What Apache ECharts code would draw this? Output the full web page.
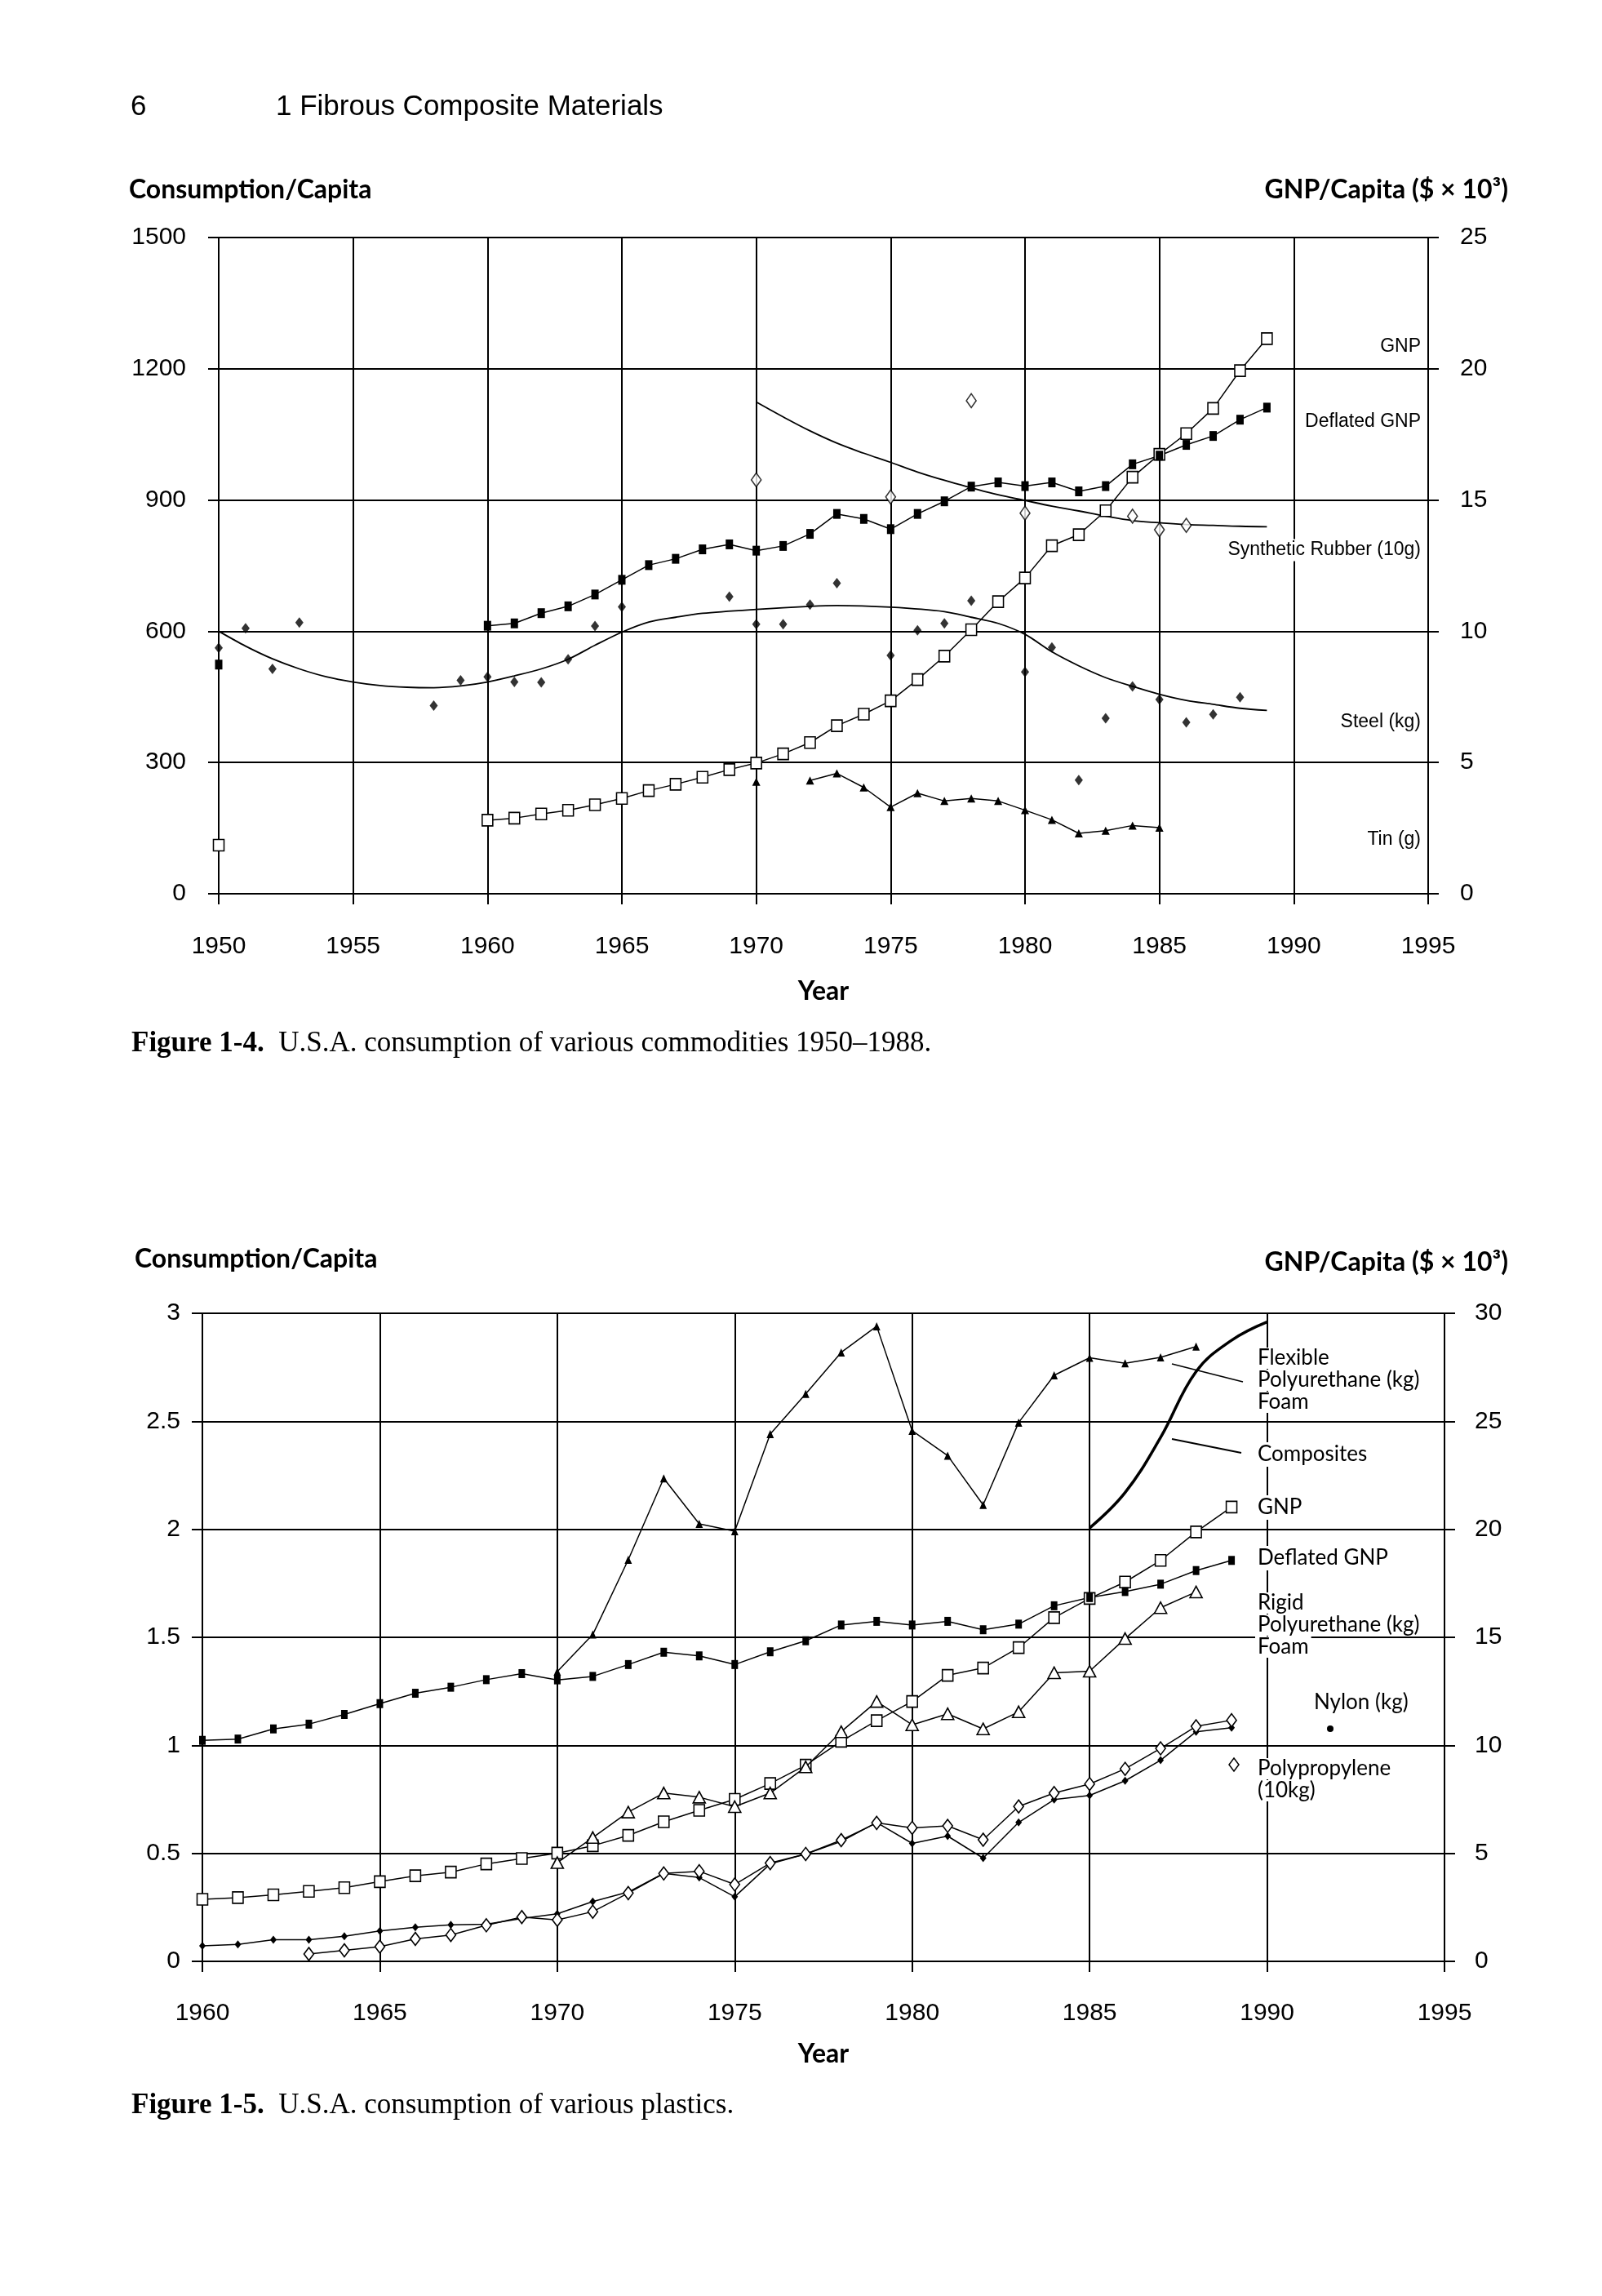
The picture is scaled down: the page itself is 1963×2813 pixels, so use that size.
<!DOCTYPE html>
<html>
<head>
<meta charset="utf-8">
<script src="https://cdn.jsdelivr.net/npm/echarts/dist/echarts.min.js"></script>
<style>
html,body{margin:0;padding:0;background:#fff;}
#c{width:1963px;height:2813px;}
</style>
</head>
<body>
<div id="c"></div>
<script>
// ================= Figure 1-4 data =================
const fig1XTicks = [1950, 1955, 1960, 1965, 1970, 1975, 1980, 1985, 1990, 1995];
const fig1LeftTicks = [0, 300, 600, 900, 1200, 1500];
const fig1RightTicks = [0, 5, 10, 15, 20, 25];

const f1GnpYears = [1950, 1960, 1961, 1962, 1963, 1964, 1965, 1966, 1967, 1968, 1969,
  1970, 1971, 1972, 1973, 1974, 1975, 1976, 1977, 1978, 1979,
  1980, 1981, 1982, 1983, 1984, 1985, 1986, 1987, 1988, 1989];
const f1GnpVals = [1.85, 2.80, 2.88, 3.04, 3.18, 3.39, 3.63, 3.93, 4.17, 4.44, 4.73,
  4.98, 5.33, 5.76, 6.40, 6.84, 7.35, 8.16, 9.05, 10.06, 11.13,
  12.03, 13.26, 13.68, 14.59, 15.87, 16.74, 17.53, 18.49, 19.93, 21.15];

const f1DeflYears = f1GnpYears;
const f1DeflVals = [8.73, 10.21, 10.30, 10.69, 10.95, 11.40, 11.96, 12.52, 12.76, 13.12, 13.31,
  13.07, 13.25, 13.71, 14.47, 14.28, 13.89, 14.47, 14.95, 15.51, 15.67,
  15.53, 15.67, 15.33, 15.53, 16.36, 16.69, 17.10, 17.44, 18.06, 18.52];

const f1SteelYears = [1950, 1951, 1952, 1953, 1958, 1959, 1960, 1961, 1962, 1963, 1964, 1965,
  1969, 1970, 1971, 1972, 1973, 1975, 1976, 1977, 1978, 1980, 1981, 1982, 1983, 1984,
  1985, 1986, 1987, 1988];
const f1SteelVals = [562, 607, 514, 620, 430, 488, 496, 484, 483, 536, 612, 656,
  679, 616, 616, 661, 710, 545, 602, 618, 670, 507, 563, 260, 401, 474,
  444, 392, 410, 449];

const f1SteelFitYears = [1950, 1951, 1952, 1953, 1954, 1955, 1956, 1957, 1958, 1959, 1960,
  1961, 1962, 1963, 1964, 1965, 1966, 1967, 1968, 1970, 1972, 1973, 1975, 1977, 1978,
  1979, 1980, 1981, 1982, 1983, 1984, 1985, 1986, 1987, 1988, 1989];
const f1SteelFitVals = [600, 566, 537, 514, 496, 484, 476, 472, 471, 475, 484,
  498, 514, 536, 568, 598, 621, 632, 641, 650, 657, 659, 655, 645, 632,
  618, 593, 553, 521, 494, 474, 456, 442, 433, 424, 419];

const f1RubberYears = [1970, 1975, 1978, 1980, 1984, 1985, 1986];
const f1RubberVals = [946, 907, 1127, 870, 863, 832, 842];

const f1RubberFitYears = [1970, 1971, 1972, 1973, 1974, 1975, 1976, 1977, 1978, 1979,
  1980, 1981, 1982, 1983, 1984, 1985, 1986, 1987, 1988, 1989];
const f1RubberFitVals = [1124, 1090, 1058, 1030, 1007, 986, 964, 945, 928, 912,
  899, 886, 875, 863, 853, 848, 844, 842, 840, 839];

const f1TinYears = [1970, 1971, 1972, 1973, 1974, 1975, 1976, 1977, 1978, 1979,
  1980, 1981, 1982, 1983, 1984, 1985];
const f1TinVals = [256, null, 259, 275, 243, 198, 230, 212, 218, 212,
  191, 169, 138, 144, 156, 151];

// ================= Figure 1-5 data =================
const fig2XTicks = [1960, 1965, 1970, 1975, 1980, 1985, 1990, 1995];
const fig2LeftTicks = [0, 0.5, 1, 1.5, 2, 2.5, 3];
const fig2RightTicks = [0, 5, 10, 15, 20, 25, 30];

const f2Years = [1960, 1961, 1962, 1963, 1964, 1965, 1966, 1967, 1968, 1969,
  1970, 1971, 1972, 1973, 1974, 1975, 1976, 1977, 1978, 1979,
  1980, 1981, 1982, 1983, 1984, 1985, 1986, 1987, 1988, 1989];
const f2GnpVals = [2.87, 2.95, 3.08, 3.24, 3.41, 3.69, 3.96, 4.13, 4.51, 4.76,
  5.01, 5.35, 5.83, 6.46, 6.99, 7.50, 8.23, 9.08, 10.19, 11.14,
  12.03, 13.24, 13.58, 14.52, 15.91, 16.80, 17.56, 18.56, 19.88, 21.03];
const f2DeflVals = [10.23, 10.29, 10.76, 10.98, 11.43, 11.93, 12.41, 12.69, 13.04, 13.32,
  13.03, 13.19, 13.74, 14.31, 14.14, 13.74, 14.33, 14.84, 15.57, 15.74,
  15.57, 15.74, 15.35, 15.61, 16.46, 16.84, 17.12, 17.46, 18.09, 18.56];
const f2NylonVals = [0.072, 0.078, 0.100, 0.100, 0.116, 0.141, 0.158, 0.169, 0.172, 0.198,
  0.220, 0.277, 0.321, 0.407, 0.388, 0.299, 0.451, 0.497, 0.555, 0.643,
  0.546, 0.580, 0.478, 0.643, 0.749, 0.768, 0.836, 0.931, 1.063, 1.082];

const f2PolyYears = [1963, 1964, 1965, 1966, 1967, 1968, 1969,
  1970, 1971, 1972, 1973, 1974, 1975, 1976, 1977, 1978, 1979,
  1980, 1981, 1982, 1983, 1984, 1985, 1986, 1987, 1988, 1989];
const f2PolyVals = [0.034, 0.051, 0.068, 0.104, 0.122, 0.167, 0.205,
  0.192, 0.230, 0.316, 0.407, 0.417, 0.356, 0.455, 0.497, 0.561, 0.641,
  0.618, 0.627, 0.563, 0.717, 0.779, 0.821, 0.891, 0.986, 1.088, 1.116];

const f2FoamYears = [1970, 1971, 1972, 1973, 1974, 1975, 1976, 1977, 1978, 1979,
  1980, 1981, 1982, 1983, 1984, 1985, 1986, 1987, 1988];
const f2FlexVals = [1.341, 1.513, 1.859, 2.236, 2.025, 1.991, 2.441, 2.627, 2.819, 2.940,
  2.456, 2.341, 2.113, 2.494, 2.713, 2.794, 2.769, 2.796, 2.846];
const f2RigidVals = [0.457, 0.573, 0.691, 0.779, 0.760, 0.716, 0.779, 0.900, 1.063, 1.203,
  1.095, 1.146, 1.076, 1.155, 1.336, 1.343, 1.494, 1.637, 1.710];

const f2CompYears = [1985, 1986, 1987, 1988, 1989, 1990];
const f2CompVals = [2.006, 2.170, 2.425, 2.730, 2.875, 2.960];

// ================= helpers =================
// pairs with a break where the yearly record has a gap (for connected data lines)
function gapPairs(xs, ys) {
  const out = [];
  for (let i = 0; i < xs.length; i++) {
    if (i > 0 && xs[i] - xs[i - 1] > 1) out.push([xs[i - 1] + 1, null]);
    out.push([xs[i], ys[i]]);
  }
  return out;
}
// plain pairs (fitted curves, scatter)
function plainPairs(xs, ys) {
  return xs.map((x, i) => [x, ys[i]]);
}
const BLACK = '#000';
const SANS = '"Liberation Sans", Arial, sans-serif';
const GEO = 'Lato, "Open Sans", sans-serif';
const SERIF = '"Liberation Serif", "Times New Roman", serif';
const plain = v => String(v);

function xAxisCfg(grid, ticks, margin) {
  return {
    type: 'value', gridIndex: grid, min: ticks[0], max: ticks[ticks.length - 1],
    interval: ticks[1] - ticks[0],
    axisLine: { show: true, onZero: false, lineStyle: { color: BLACK, width: 2 } },
    axisTick: { show: true, inside: false, length: 13, lineStyle: { color: BLACK, width: 2 } },
    axisLabel: { show: true, margin: margin, color: BLACK, fontFamily: SANS, fontSize: 30, formatter: plain, showMinLabel: true, showMaxLabel: true },
    splitLine: { show: true, lineStyle: { color: BLACK, width: 2 } }
  };
}
function yAxisCfg(grid, ticks, pos, margin, split) {
  return {
    type: 'value', gridIndex: grid, position: pos, min: ticks[0], max: ticks[ticks.length - 1],
    interval: ticks[1] - ticks[0],
    axisLine: { show: true, onZero: false, lineStyle: { color: BLACK, width: 2 } },
    axisTick: { show: true, inside: false, length: 13, lineStyle: { color: BLACK, width: 2 } },
    axisLabel: { show: true, margin: margin, color: BLACK, fontFamily: SANS, fontSize: 30, formatter: plain, showMinLabel: true, showMaxLabel: true },
    splitLine: { show: split, lineStyle: { color: BLACK, width: 2 } }
  };
}
const LINE = { color: BLACK, width: 1.5 };
const openItem = { color: '#fff', borderColor: BLACK, borderWidth: 1.6 };
const fillItem = { color: BLACK, borderColor: BLACK, borderWidth: 0 };

function text(t, x, y, opts) {
  opts = opts || {};
  const st = {
    text: t, x: x, y: y, fill: BLACK,
    fontFamily: opts.family || SANS, fontSize: opts.size || 22,
    fontWeight: opts.weight || 'normal',
    align: opts.align || 'left', textAlign: opts.align || 'left',
    verticalAlign: 'middle', textVerticalAlign: 'middle'
  };
  if (opts.bg) { st.backgroundColor = '#fff'; st.padding = opts.pad || [2, 4]; }
  if (opts.rich) st.rich = opts.rich;
  return { type: 'text', z: 100, style: st };
}

// ================= chart =================
const chart = echarts.init(document.getElementById('c'), null, { renderer: 'canvas' });

const capRich = { b: { fontFamily: SERIF, fontSize: 35, fontWeight: 'bold', fill: BLACK } };
const LBL2 = 26;

const option = {
  animation: false,
  backgroundColor: '#fff',
  grid: [
    { left: 268, top: 291, width: 1482, height: 804 },
    { left: 248, top: 1609, width: 1522, height: 794 }
  ],
  xAxis: [xAxisCfg(0, fig1XTicks, 50), xAxisCfg(1, fig2XTicks, 49)],
  yAxis: [
    yAxisCfg(0, fig1LeftTicks, 'left', 40, true),
    yAxisCfg(0, fig1RightTicks, 'right', 39, false),
    yAxisCfg(1, fig2LeftTicks, 'left', 27, true),
    yAxisCfg(1, fig2RightTicks, 'right', 37, false)
  ],
  series: [
    // ---- Figure 1-4 ----
    { name: 'Steel fit', type: 'line', xAxisIndex: 0, yAxisIndex: 0, smooth: 0.3, symbol: 'none',
      lineStyle: { color: BLACK, width: 1.8 }, data: plainPairs(f1SteelFitYears, f1SteelFitVals), z: 2 },
    { name: 'Rubber fit', type: 'line', xAxisIndex: 0, yAxisIndex: 0, smooth: 0.4, symbol: 'none',
      lineStyle: { color: BLACK, width: 1.8 }, data: plainPairs(f1RubberFitYears, f1RubberFitVals), z: 2 },
    { name: 'GNP', type: 'line', xAxisIndex: 0, yAxisIndex: 1, symbol: 'rect', symbolSize: [13, 14],
      showSymbol: true, lineStyle: LINE, itemStyle: openItem, data: gapPairs(f1GnpYears, f1GnpVals), z: 3 },
    { name: 'Deflated GNP', type: 'line', xAxisIndex: 0, yAxisIndex: 1, symbol: 'rect', symbolSize: [9, 12],
      showSymbol: true, lineStyle: LINE, itemStyle: fillItem, data: gapPairs(f1DeflYears, f1DeflVals), z: 3 },
    { name: 'Steel (kg)', type: 'scatter', xAxisIndex: 0, yAxisIndex: 0, symbol: 'diamond', symbolSize: [10, 13],
      itemStyle: fillItem, data: plainPairs(f1SteelYears, f1SteelVals), z: 4 },
    { name: 'Synthetic Rubber (10g)', type: 'scatter', xAxisIndex: 0, yAxisIndex: 0, symbol: 'diamond', symbolSize: [12, 17],
      itemStyle: openItem, data: plainPairs(f1RubberYears, f1RubberVals), z: 4 },
    { name: 'Tin (g)', type: 'line', xAxisIndex: 0, yAxisIndex: 0, symbol: 'triangle', symbolSize: [10, 10],
      showSymbol: true, connectNulls: false, lineStyle: LINE, itemStyle: fillItem, data: gapPairs(f1TinYears, f1TinVals), z: 3 },

    // ---- Figure 1-5 ----
    { name: 'Composites', type: 'line', xAxisIndex: 1, yAxisIndex: 2, smooth: 0.4, symbol: 'none',
      lineStyle: { color: BLACK, width: 3.5 }, data: plainPairs(f2CompYears, f2CompVals), z: 2 },
    { name: 'Flexible Polyurethane Foam', type: 'line', xAxisIndex: 1, yAxisIndex: 2, symbol: 'triangle', symbolSize: [9, 10],
      showSymbol: true, lineStyle: LINE, itemStyle: fillItem, data: gapPairs(f2FoamYears, f2FlexVals), z: 3 },
    { name: 'GNP 2', type: 'line', xAxisIndex: 1, yAxisIndex: 3, symbol: 'rect', symbolSize: [13, 14],
      showSymbol: true, lineStyle: LINE, itemStyle: openItem, data: gapPairs(f2Years, f2GnpVals), z: 3 },
    { name: 'Deflated GNP 2', type: 'line', xAxisIndex: 1, yAxisIndex: 3, symbol: 'rect', symbolSize: [8, 11],
      showSymbol: true, lineStyle: LINE, itemStyle: fillItem, data: gapPairs(f2Years, f2DeflVals), z: 3 },
    { name: 'Rigid Polyurethane Foam', type: 'line', xAxisIndex: 1, yAxisIndex: 2, symbol: 'triangle', symbolSize: [15, 14],
      showSymbol: true, lineStyle: LINE, itemStyle: openItem, data: gapPairs(f2FoamYears, f2RigidVals), z: 4 },
    { name: 'Nylon (kg)', type: 'line', xAxisIndex: 1, yAxisIndex: 2, symbol: 'diamond', symbolSize: [8, 10],
      showSymbol: true, lineStyle: LINE, itemStyle: fillItem, data: gapPairs(f2Years, f2NylonVals), z: 3 },
    { name: 'Polypropylene (10kg)', type: 'line', xAxisIndex: 1, yAxisIndex: 2, symbol: 'diamond', symbolSize: [12, 16],
      showSymbol: true, lineStyle: LINE, itemStyle: openItem, data: gapPairs(f2PolyYears, f2PolyVals), z: 4 }
  ],
  graphic: [
    // page header
    text('6', 160, 131, { size: 35 }),
    text('1 Fibrous Composite Materials', 338, 131, { size: 35 }),

    // Figure 1-4 titles
    text('Consumption/Capita', 158, 233, { family: GEO, size: 32, weight: 'bold' }),
    text('GNP/Capita ($ × 10³)', 1848, 233, { family: GEO, size: 32, weight: 'bold', align: 'right' }),
    text('Year', 1009, 1215, { family: GEO, size: 32, weight: 'bold', align: 'center' }),
    text('{b|Figure 1-4.}  U.S.A. consumption of various commodities 1950–1988.', 161, 1279,
      { family: SERIF, size: 35, rich: capRich }),

    // Figure 1-4 series labels
    text('GNP', 1745, 425, { size: 23, align: 'right', bg: true }),
    text('Deflated GNP', 1745, 517, { size: 23, align: 'right', bg: true }),
    text('Synthetic Rubber (10g)', 1745, 674, { size: 23, align: 'right', bg: true }),
    text('Steel (kg)', 1745, 885, { size: 23, align: 'right', bg: true }),
    text('Tin (g)', 1745, 1029, { size: 23, align: 'right', bg: true }),

    // Figure 1-5 titles
    text('Consumption/Capita', 165, 1543, { family: GEO, size: 32, weight: 'bold' }),
    text('GNP/Capita ($ × 10³)', 1848, 1547, { family: GEO, size: 32, weight: 'bold', align: 'right' }),
    text('Year', 1009, 2517, { family: GEO, size: 32, weight: 'bold', align: 'center' }),
    text('{b|Figure 1-5.}  U.S.A. consumption of various plastics.', 161, 2580,
      { family: SERIF, size: 35, rich: capRich }),

    // Figure 1-5 series labels
    text('Flexible', 1538, 1664, { family: GEO, size: LBL2, bg: true, pad: [0, 3] }),
    text('Polyurethane (kg)', 1538, 1691, { family: GEO, size: LBL2, bg: true, pad: [0, 3] }),
    text('Foam', 1538, 1718, { family: GEO, size: LBL2, bg: true, pad: [0, 3] }),
    text('Composites', 1538, 1782, { family: GEO, size: LBL2, bg: true, pad: [2, 3] }),
    text('GNP', 1538, 1847, { family: GEO, size: LBL2, bg: true, pad: [2, 3] }),
    text('Deflated GNP', 1538, 1909, { family: GEO, size: LBL2, bg: true, pad: [2, 3] }),
    text('Rigid', 1538, 1964, { family: GEO, size: LBL2, bg: true, pad: [0, 3] }),
    text('Polyurethane (kg)', 1538, 1991, { family: GEO, size: LBL2, bg: true, pad: [0, 3] }),
    text('Foam', 1538, 2018, { family: GEO, size: LBL2, bg: true, pad: [0, 3] }),
    text('Nylon (kg)', 1607, 2086, { family: GEO, size: LBL2, bg: true, pad: [2, 3] }),
    text('Polypropylene', 1538, 2167, { family: GEO, size: LBL2, bg: true, pad: [0, 3] }),
    text('(10kg)', 1538, 2194, { family: GEO, size: LBL2, bg: true, pad: [0, 3] }),

    // leader lines and legend symbols (Figure 1-5)
    { type: 'line', z: 100, shape: { x1: 1436, y1: 1671, x2: 1523, y2: 1693 }, style: { stroke: BLACK, lineWidth: 1.8 } },
    { type: 'line', z: 100, shape: { x1: 1436, y1: 1763, x2: 1521, y2: 1780 }, style: { stroke: BLACK, lineWidth: 1.8 } },
    { type: 'circle', z: 100, shape: { cx: 1630, cy: 2118, r: 4 }, style: { fill: BLACK } },
    { type: 'polygon', z: 100, shape: { points: [[1512, 2154], [1518, 2162], [1512, 2170], [1506, 2162]] },
      style: { fill: '#fff', stroke: BLACK, lineWidth: 1.5 } }
  ]
};
chart.setOption(option);
</script>
</body>
</html>
